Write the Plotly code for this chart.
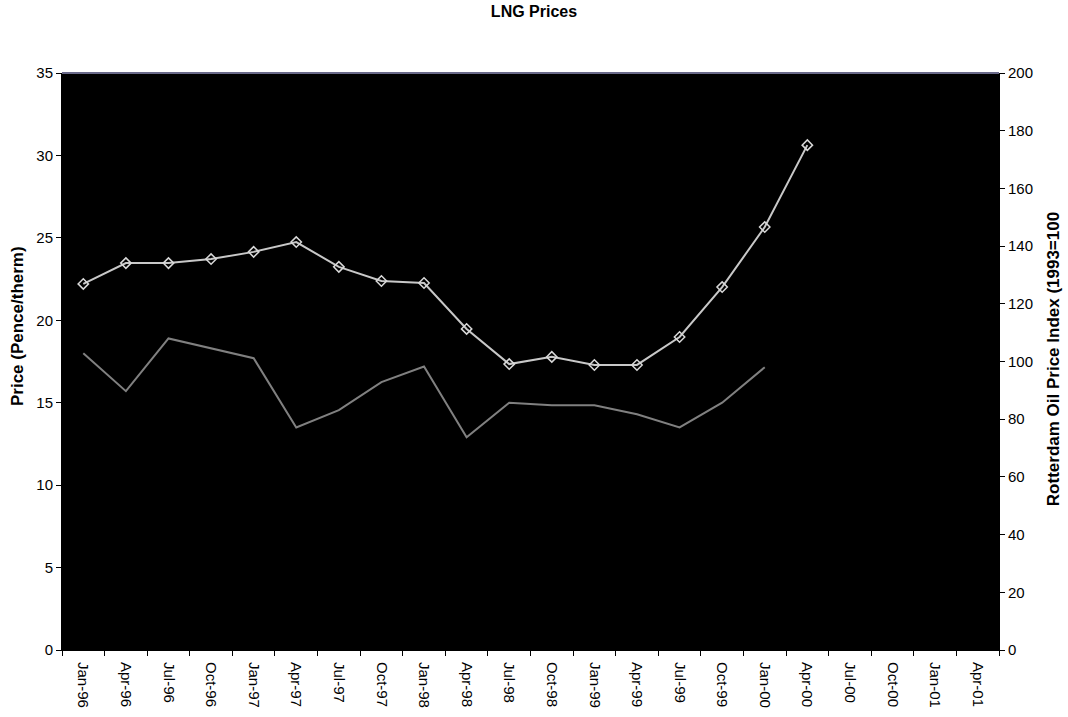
import plotly.graph_objects as go

# Quarterly category labels
quarters = ["Jan-96", "Apr-96", "Jul-96", "Oct-96", "Jan-97", "Apr-97", "Jul-97", "Oct-97",
            "Jan-98", "Apr-98", "Jul-98", "Oct-98", "Jan-99", "Apr-99", "Jul-99", "Oct-99",
            "Jan-00", "Apr-00", "Jul-00", "Oct-00", "Jan-01", "Apr-01"]

# LNG price, pence/therm (left axis)
lng_price = [18.0, 15.7, 18.9, 18.3, 17.7, 13.5, 14.55, 16.25, 17.2, 12.9, 15.0, 14.85,
             14.85, 14.3, 13.5, 15.0, 17.15]

# Rotterdam oil price index, 1993=100 (right axis)
oil_index = [126.9, 134.1, 134.1, 135.5, 138.0, 141.4, 132.8, 127.9, 127.2, 111.3, 99.1,
             101.6, 98.8, 98.8, 108.5, 125.8, 146.6, 175.0]

left_ticks = [0, 5, 10, 15, 20, 25, 30, 35]
right_ticks = [0, 20, 40, 60, 80, 100, 120, 140, 160, 180, 200]

FONT = "Liberation Sans, Arial, sans-serif"
TICK_SIZE = 15

fig = go.Figure()

fig.add_trace(go.Scatter(
    x=quarters[:len(lng_price)], y=lng_price, mode="lines",
    line=dict(color="#808080", width=2), name="LNG", yaxis="y",
    showlegend=False,
))

fig.add_trace(go.Scatter(
    x=quarters[:len(oil_index)], y=oil_index, mode="lines+markers",
    line=dict(color="#c8c8c8", width=2),
    marker=dict(symbol="diamond-open", size=8, color="#d8d8d8", line=dict(width=1.5)),
    name="Oil", yaxis="y2", showlegend=False,
))

fig.update_layout(
    width=1068, height=717,
    margin=dict(l=62, r=69, t=73, b=67),
    paper_bgcolor="white",
    plot_bgcolor="black",
    font=dict(family=FONT, size=TICK_SIZE, color="black"),
    title=dict(text="<b>LNG Prices</b>", x=0.5, xanchor="center", y=0.992, yanchor="top",
               font=dict(family=FONT, size=16, color="black")),
    xaxis=dict(
        type="category", categoryorder="array", categoryarray=quarters,
        range=[-0.5, len(quarters) - 0.5], automargin=False,
        tickmode="array", tickvals=quarters, ticktext=quarters,
        tickangle=90, tickson="boundaries", ticks="outside", ticklen=5,
        tickcolor="black", showgrid=False, zeroline=False,
        showline=True, linecolor="black", linewidth=1,
        ticklabelstandoff=8,
        tickfont=dict(family=FONT, size=TICK_SIZE),
    ),
    yaxis=dict(
        range=[0, 35], tickvals=left_ticks, ticks="outside", ticklen=5,
        automargin=False,
        tickcolor="black", showgrid=False, zeroline=False,
        showline=True, linecolor="black", linewidth=1,
        tickfont=dict(family=FONT, size=TICK_SIZE),
    ),
    yaxis2=dict(
        range=[0, 200], tickvals=right_ticks, overlaying="y", side="right",
        automargin=False,
        ticks="outside", ticklen=5, tickcolor="black",
        showgrid=False, zeroline=False,
        showline=True, linecolor="black", linewidth=1,
        tickfont=dict(family=FONT, size=TICK_SIZE),
    ),
)

# Axis titles
fig.add_annotation(text="<b>Price (Pence/therm)</b>", textangle=-90,
                   xref="paper", yref="paper", x=-0.048, y=0.5615,
                   xanchor="center", yanchor="middle", showarrow=False,
                   font=dict(family=FONT, size=17, color="black"))
fig.add_annotation(text="<b>Rotterdam Oil Price Index (1993=100</b>", textangle=-90,
                   xref="paper", yref="paper", x=1.0576, y=0.504,
                   xanchor="center", yanchor="middle", showarrow=False,
                   font=dict(family=FONT, size=17, color="black"))

# Top border of the plot area
fig.add_shape(type="line", xref="paper", yref="paper", x0=0, x1=1, y0=1, y1=1,
              line=dict(color="#6a6a8a", width=2))

fig.write_html("out.html")
